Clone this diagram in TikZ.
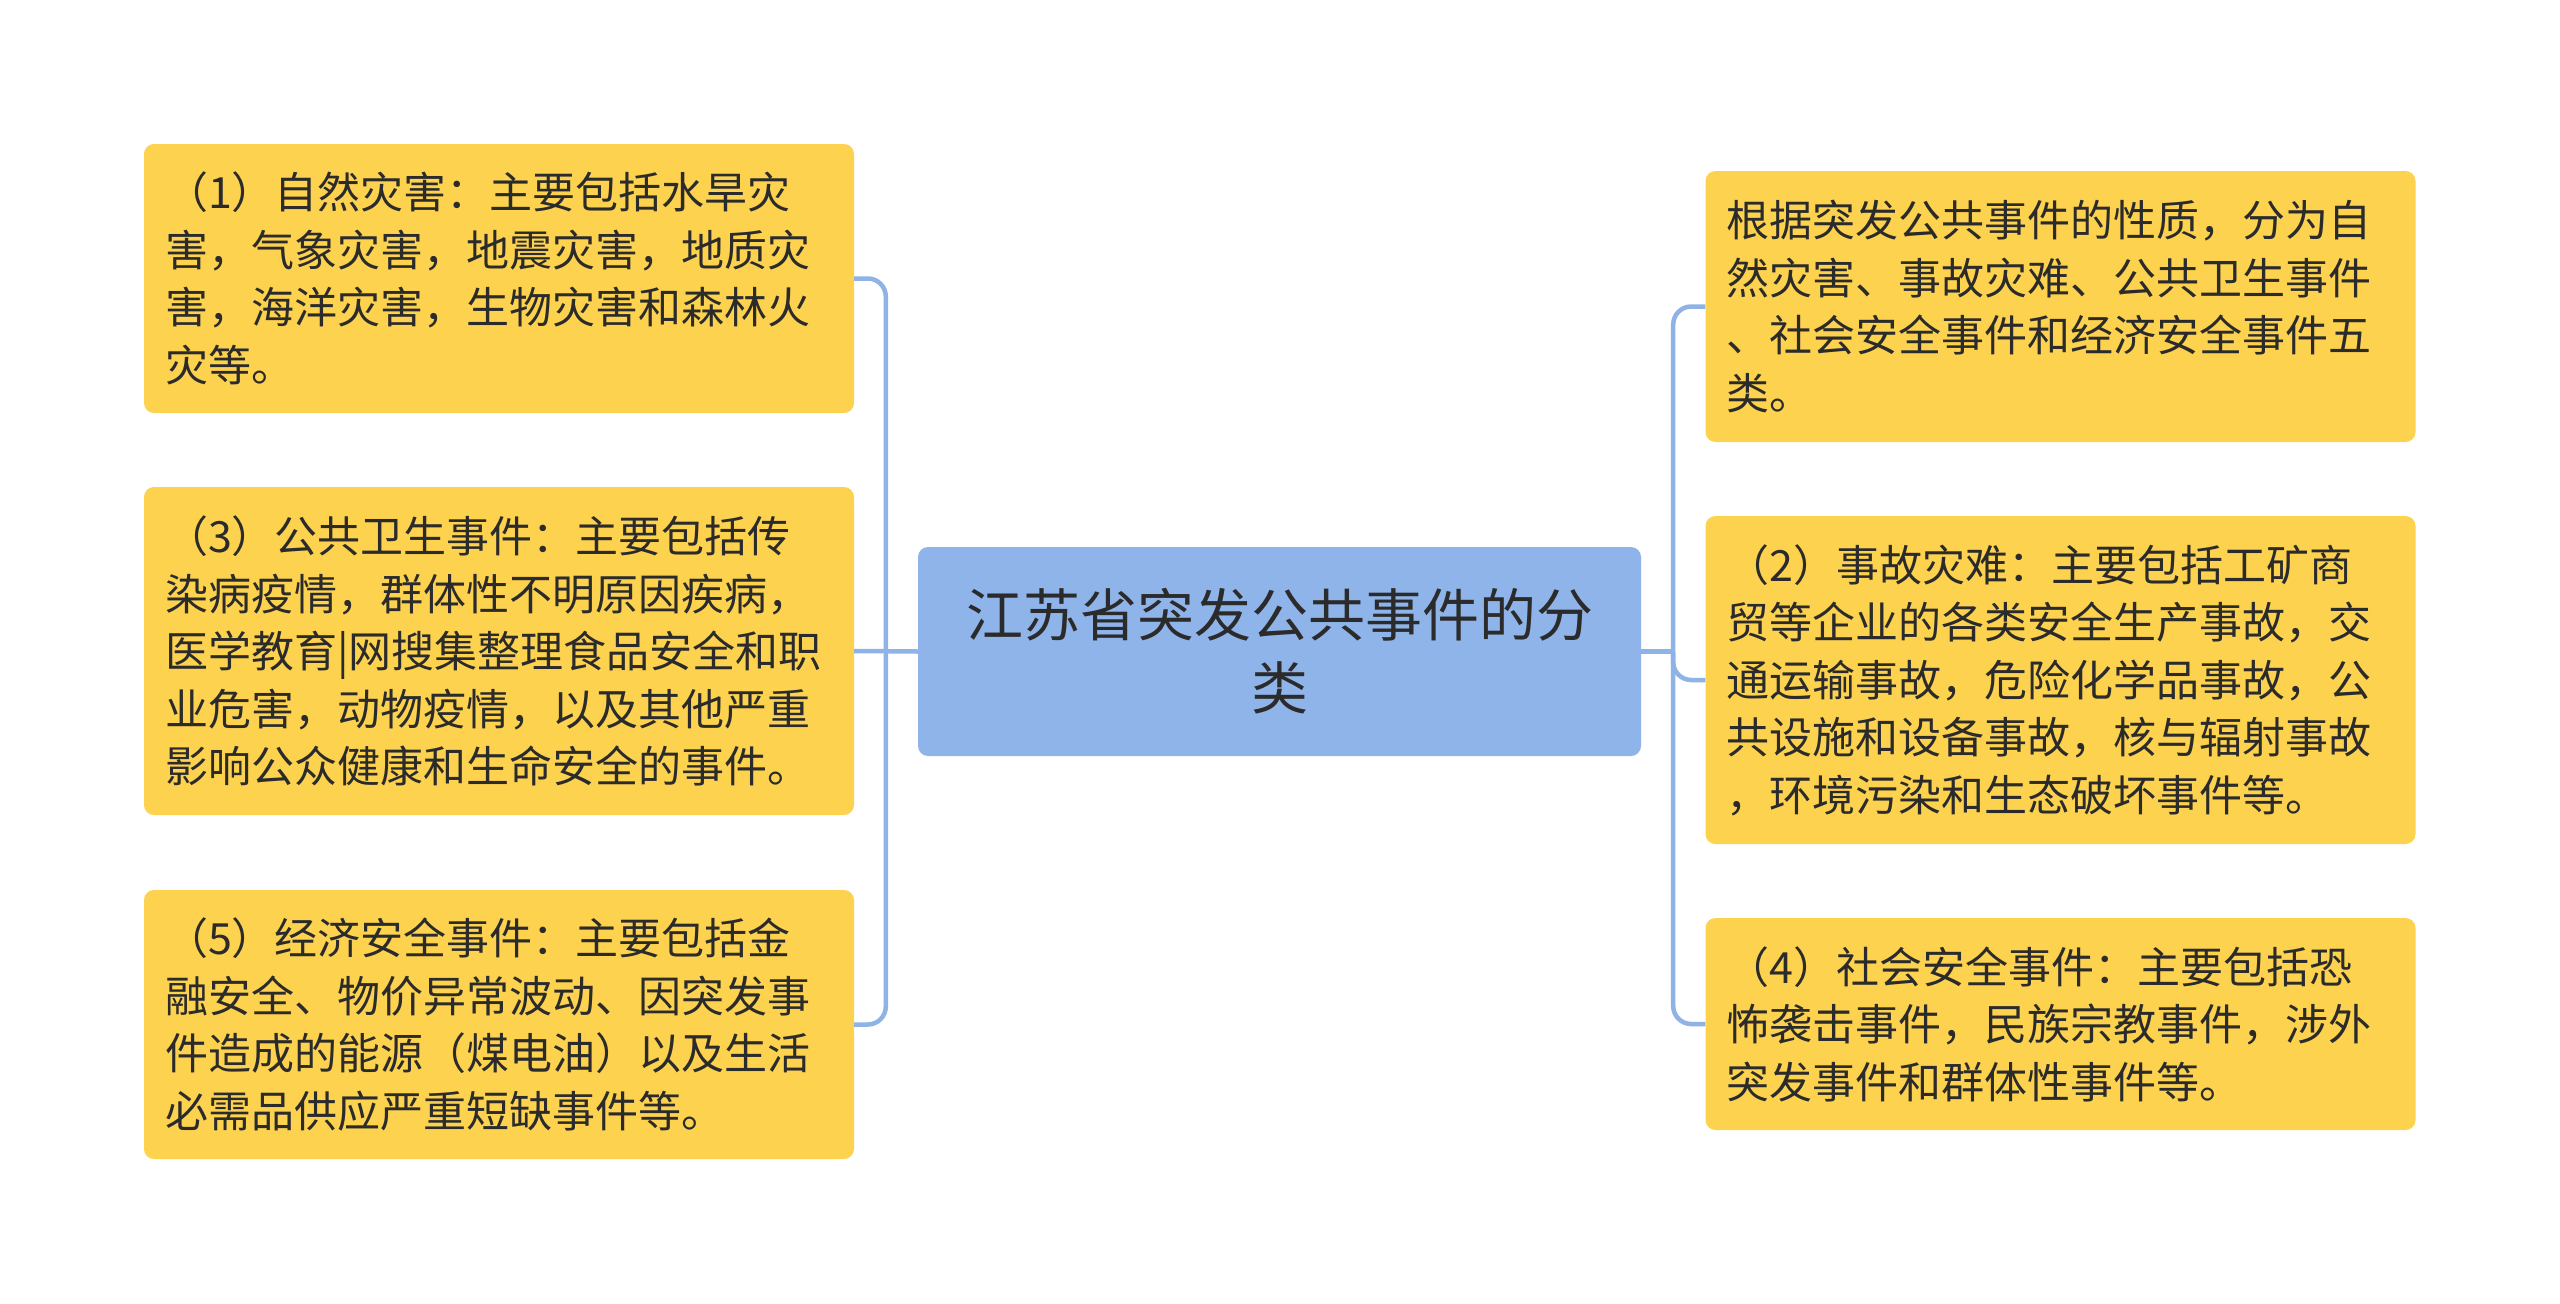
\documentclass[tikz,border=0pt]{standalone}
\usepackage{fontspec}
\setmainfont{Noto Sans CJK SC}
\definecolor{leafyellow}{HTML}{FDD24F}
\definecolor{centerblue}{HTML}{8FB4EA}
\definecolor{linkblue}{HTML}{8FB3E6}
\definecolor{txt}{HTML}{2B2B2B}
\begin{document}
\begin{tikzpicture}[x=1pt,y=-1pt,
  leaf/.style={draw=none, fill=leafyellow, rounded corners=10pt, text width=668pt,
    inner xsep=21pt, inner ysep=0pt, align=left, minimum width=710pt,
    font=\fontsize{43}{57.5}\selectfont, text=txt},
  hub/.style={draw=none, fill=centerblue, rounded corners=10pt, text width=680pt,
    inner xsep=21pt, inner ysep=0pt, align=center, minimum width=723pt, minimum height=209pt,
    font=\fontsize{57}{73}\selectfont, text=txt},
  conn/.style={draw=linkblue, line width=4.5pt, rounded corners=18pt}]
\useasboundingbox[fill=white] (0,0) rectangle (2560,1304);

\node[hub] (c) at (1279.5,651.5) {江苏省突发公共事件的分\\类};

\node[leaf, minimum height=269pt] (l1) at (499,278.5)
  {（1）自然灾害：主要包括水旱灾\\害，气象灾害，地震灾害，地质灾\\害，海洋灾害，生物灾害和森林火\\灾等。};
\node[leaf, minimum height=328pt] (l3) at (499,651)
  {（3）公共卫生事件：主要包括传\\染病疫情，群体性不明原因疾病，\\医学教育|网搜集整理食品安全和职\\业危害，动物疫情，以及其他严重\\影响公众健康和生命安全的事件。};
\node[leaf, minimum height=269pt] (l5) at (499,1024.5)
  {（5）经济安全事件：主要包括金\\融安全、物价异常波动、因突发事\\件造成的能源（煤电油）以及生活\\必需品供应严重短缺事件等。};

\node[leaf, minimum height=271pt] (r1) at (2060.5,306.5)
  {根据突发公共事件的性质，分为自\\然灾害、事故灾难、公共卫生事件\\、社会安全事件和经济安全事件五\\类。};
\node[leaf, minimum height=328pt] (r2) at (2060.5,680)
  {（2）事故灾难：主要包括工矿商\\贸等企业的各类安全生产事故，交\\通运输事故，危险化学品事故，公\\共设施和设备事故，核与辐射事故\\，环境污染和生态破坏事件等。};
\node[leaf, minimum height=212pt] (r4) at (2060.5,1024)
  {（4）社会安全事件：主要包括恐\\怖袭击事件，民族宗教事件，涉外\\突发事件和群体性事件等。};

\coordinate (ls) at ([xshift=-32pt]c.west);
\coordinate (rs) at ([xshift=32pt]c.east);

\draw[conn] (c.west) -- (l3.east);
\draw[conn] (l1.east) -| (ls);
\draw[conn] (l5.east) -| (ls);
\draw[conn] (c.east) -- (rs);
\draw[conn] (r1.west) -| (rs);
\draw[conn] (r2.west) -| (rs);
\draw[conn] (r4.west) -| (rs);
\end{tikzpicture}
\end{document}
